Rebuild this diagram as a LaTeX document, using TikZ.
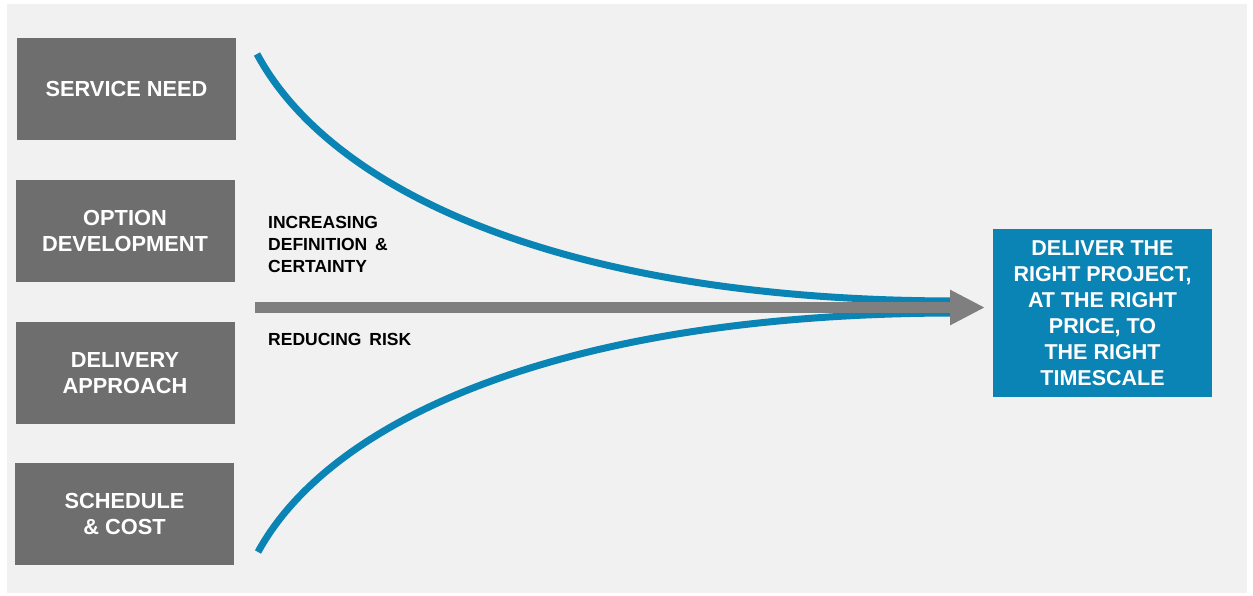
\documentclass[tikz,border=0pt]{standalone}
\usepackage{fontspec}
\setmainfont{Liberation Sans}
\usetikzlibrary{arrows.meta}
\definecolor{boxgray}{HTML}{6E6E6E}
\definecolor{bgray}{HTML}{F1F1F1}
\definecolor{dblue}{HTML}{0A84B5}
\definecolor{agray}{HTML}{7F7F7F}
\tikzset{
  stagebox/.style={fill=boxgray, draw=none, minimum width=219pt, minimum height=102pt, inner sep=0pt, text=white, align=center, font=\bfseries\fontsize{21.8}{26.5}\selectfont},
  goalbox/.style={fill=dblue, draw=none, minimum width=219pt, minimum height=168pt, inner sep=0pt, text=white, align=center, font=\bfseries\fontsize{21.5}{26}\selectfont},
  lbl/.style={inner sep=0pt, anchor=west, align=left, text=black, font=\bfseries\fontsize{17.5}{22}\selectfont},
  curve/.style={draw=dblue, line width=7pt},
}
\begin{document}
\begin{tikzpicture}[x=1pt,y=-1pt]
\useasboundingbox (0,0) rectangle (1253,596);
\fill[white] (0,0) rectangle (1253,596);
\fill[bgray] (7,4) rectangle (1247,593);

\node[stagebox] (sn) at (126.5,89) {SERVICE NEED};
\node[stagebox] (od) at (125,231) {OPTION\\DEVELOPMENT};
\node[stagebox] (da) at (125,373) {DELIVERY\\APPROACH};
\node[stagebox] (sc) at (124.5,514) {SCHEDULE\\\& COST};
\node[goalbox] (goal) at (1102.5,313) {DELIVER THE\\RIGHT PROJECT,\\AT THE RIGHT\\PRICE, TO\\THE RIGHT\\TIMESCALE};

\node[lbl] (inc) at (268,244) {INCREASING\\DEFINITION\hspace{0.45em}\&\\CERTAINTY};
\node[lbl] (red) at (268,339) {REDUCING\hspace{0.45em}RISK};

\coordinate (tstart) at (257,54);
\coordinate (tend) at (952,301);
\coordinate (bstart) at (258,552);
\coordinate (bend) at (952,313);
\coordinate (astart) at (255,307.5);
\coordinate (atip) at (985,307.5);

\draw[curve] (tstart) .. controls (330,190) and (560,300) .. (tend);
\draw[curve] (bstart) .. controls (330,420) and (560,314) .. (bend);

\draw[agray, line width=11pt, -{Triangle[length=35pt,width=33pt]}] (astart) -- (atip);
\end{tikzpicture}
\end{document}
